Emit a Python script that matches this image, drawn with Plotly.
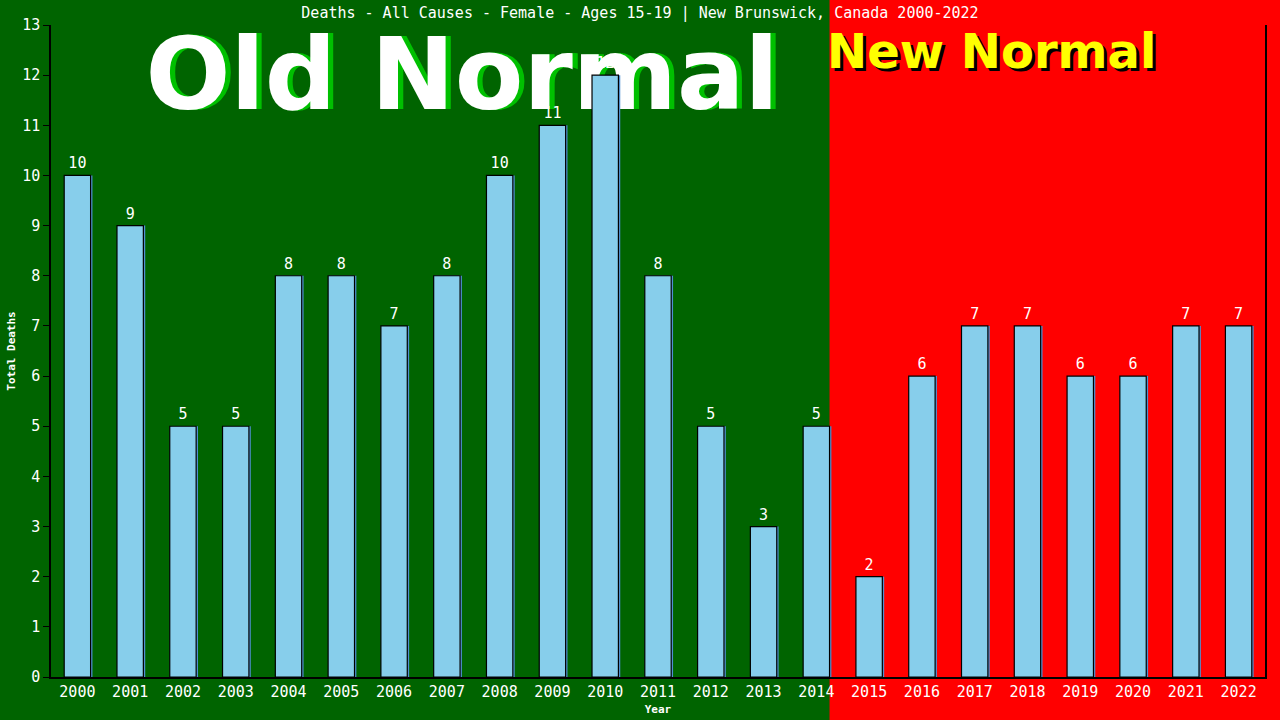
import plotly.graph_objects as go

# data
years = list(range(2000, 2023))
deaths = [10, 9, 5, 5, 8, 8, 7, 8, 10, 11, 12, 8, 5, 3, 5, 2, 6, 7, 7, 6, 6, 7, 7]
last_old_normal_year = 2014

title = "Deaths - All Causes - Female - Ages 15-19 | New Brunswick, Canada 2000-2022"
mono = "DejaVu Sans Mono"
sans = "DejaVu Sans"

x_range = [years[0] - 0.5, years[-1] + 0.5]
bar_w = 0.5
split_frac = (last_old_normal_year + bar_w / 2 - x_range[0]) / (x_range[1] - x_range[0])
old_x = x_range[0] + 0.3386 * (x_range[1] - x_range[0])

fig = go.Figure()

# big "Old Normal" label sits behind the bars, so it lives on the base subplot
fig.add_trace(go.Scatter(
    x=[old_x + 0.1], y=[0.909], mode="text", text=["<b>Old Normal</b>"],
    textposition="middle center", textfont=dict(family=sans, size=100, color="#00c000"),
    yaxis="y", hoverinfo="skip", showlegend=False, cliponaxis=False,
))
fig.add_trace(go.Scatter(
    x=[old_x], y=[0.909], mode="text", text=["<b>Old Normal</b>"],
    textposition="middle center", textfont=dict(family=sans, size=100, color="white"),
    yaxis="y", hoverinfo="skip", showlegend=False, cliponaxis=False,
))

# thin blue shadow behind each bar
fig.add_trace(go.Bar(
    x=years, y=deaths, width=bar_w, offset=-bar_w / 2 + 0.035, yaxis="y2",
    marker=dict(color="#4f8fd0", line=dict(width=0)),
    hoverinfo="skip", showlegend=False,
))
fig.add_trace(go.Bar(
    x=years, y=deaths, width=bar_w, offset=-bar_w / 2, yaxis="y2",
    marker=dict(color="#87ceeb", line=dict(color="black", width=1.2)),
    text=[str(v) for v in deaths], textposition="outside",
    textfont=dict(family=mono, size=15, color="white"),
    cliponaxis=False, showlegend=False,
))

# green "old normal" background on the left, red page elsewhere
shapes = [
    dict(type="rect", xref="paper", yref="paper", x0=-0.1, x1=split_frac, y0=-0.1, y1=1.1,
         fillcolor="#006400", line=dict(width=0), layer="below"),
]

annotations = [
    # New Normal: black shadow then yellow text
    dict(text="<b>New Normal</b>", xref="paper", yref="paper", x=split_frac - 0.001, y=1.001,
         xanchor="left", yanchor="top", showarrow=False,
         font=dict(family=sans, size=48, color="black")),
    dict(text="<b>New Normal</b>", xref="paper", yref="paper", x=split_frac - 0.0035, y=1.006,
         xanchor="left", yanchor="top", showarrow=False,
         font=dict(family=sans, size=48, color="#ffff00")),
]

fig.update_layout(
    width=1280, height=720,
    margin=dict(l=51, r=15, t=25, b=43, autoexpand=False),
    paper_bgcolor="#ff0000", plot_bgcolor="rgba(0,0,0,0)",
    title=dict(text=title, x=0.5, xanchor="center", y=0.982, yanchor="middle",
               font=dict(family=mono, size=15, color="white")),
    shapes=shapes, annotations=annotations,
    bargap=0.5, barmode="overlay",
    xaxis=dict(
        range=x_range, tickmode="array", tickvals=years, ticktext=[str(y) for y in years],
        showgrid=False, zeroline=False, showline=True, linecolor="black", linewidth=1.5,
        ticks="", tickfont=dict(family=mono, size=15, color="white"), automargin=False,
        title=dict(text="<b>Year</b>", font=dict(family=mono, size=11, color="white"), standoff=6),
    ),
    yaxis=dict(range=[0, 1], visible=False, fixedrange=True),
    yaxis2=dict(
        overlaying="y", side="left",
        range=[0, 13], dtick=1, showgrid=False, zeroline=False,
        showline=True, linecolor="black", linewidth=1.5, mirror=True,
        ticks="outside", ticklen=6, tickcolor="black", automargin=False,
        tickfont=dict(family=mono, size=15, color="white"),
        title=dict(text="<b>Total Deaths</b>", font=dict(family=mono, size=11, color="white"), standoff=4),
    ),
)

# drop the default page margin so the figure sits at the window corner
fig.write_html("out.html", config={"displayModeBar": False},
               post_script="document.body.style.margin='0';")
